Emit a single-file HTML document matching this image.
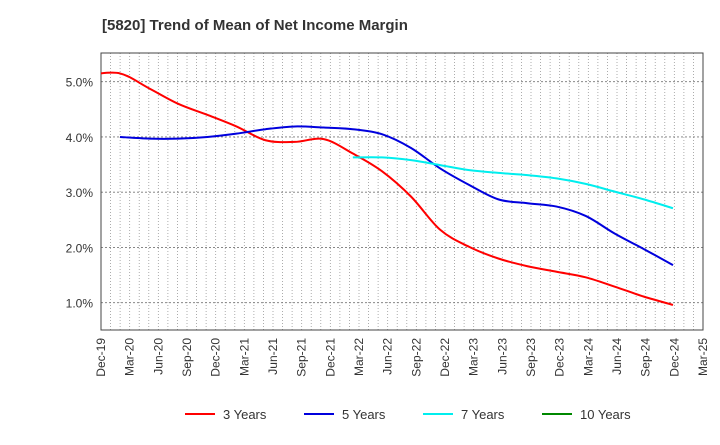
<!DOCTYPE html>
<html><head><meta charset="utf-8"><style>
body{margin:0;background:#fff;font-family:"Liberation Sans",sans-serif}
</style></head><body>
<svg width="720" height="440" xmlns="http://www.w3.org/2000/svg">
<defs><clipPath id="cp"><rect x="101" y="53" width="602" height="277"/></clipPath></defs>
<text x="102" y="30" font-size="15" font-weight="bold" fill="#333">[5820]  Trend of Mean of Net Income Margin</text>
<g id="grid"></g>
<rect x="101" y="53" width="602" height="277" fill="none" stroke="#444" stroke-width="1"/>
<g id="series" clip-path="url(#cp)"></g>
<g id="axes"></g>
<g id="legend"></g>
</svg>
<script>
const xLabels=["Dec-19","Mar-20","Jun-20","Sep-20","Dec-20","Mar-21","Jun-21","Sep-21","Dec-21","Mar-22","Jun-22","Sep-22","Dec-22","Mar-23","Jun-23","Sep-23","Dec-23","Mar-24","Jun-24","Sep-24","Dec-24","Mar-25"];
const yTicks=[1,2,3,4,5];
const red=[5.13,5.15,4.88,4.6,4.4,4.19,3.94,3.91,3.96,3.7,3.38,2.92,2.32,2.01,1.8,1.66,1.56,1.46,1.29,1.11,0.96];
const blue=[null,4.0,3.97,3.97,4.0,4.06,4.14,4.19,4.17,4.14,4.05,3.8,3.43,3.13,2.87,2.8,2.74,2.57,2.25,1.97,1.68];
const cyan=[null,null,null,null,null,null,null,null,null,3.63,3.63,3.58,3.49,3.4,3.35,3.31,3.25,3.15,3.01,2.87,2.71];
const green=[];
const NS="http://www.w3.org/2000/svg";
const X0=101,X1=703,Y0=53,Y1=330;
const yS=v=>302.7-(v-1)*55.25;
const tickX=i=>X0+i*(X1-X0)/21;
const ptX=i=>120+(i-1)*(553/19);
function mk(t,a,p){const e=document.createElementNS(NS,t);for(const k in a)e.setAttribute(k,a[k]);p.appendChild(e);return e;}
const grid=document.getElementById('grid'),axes=document.getElementById('axes'),ser=document.getElementById('series'),leg=document.getElementById('legend');
for(let m=1;m<63;m++){const x=X0+m*(X1-X0)/63;
const l=mk('line',{x1:x,x2:x,y1:Y0,y2:Y1,stroke:'#999','stroke-width':0.8,'stroke-dasharray':'1,2'},grid);

}
yTicks.forEach(v=>{const y=yS(v);
const l=mk('line',{x1:X0,x2:X1,y1:y,y2:y,stroke:'#777','stroke-width':0.8,'stroke-dasharray':'2,2'},grid);


const t=mk('text',{x:93,y:y+5,'text-anchor':'end','font-size':12,fill:'#333'},axes);t.textContent=v.toFixed(1)+'%';

});
xLabels.forEach((s,i)=>{const x=tickX(i);
const t=mk('text',{x:0,y:0,transform:`translate(${x+4},338) rotate(-90)`,'text-anchor':'end','font-size':12,fill:'#333'},axes);t.textContent=s;

});
function line(d,c,name){const pts=[];d.forEach((v,i)=>{if(v!=null)pts.push([ptX(i),yS(v)]);});
if(pts.length<2)return;
let p=`M${pts[0][0]},${pts[0][1]}`;
for(let i=0;i<pts.length-1;i++){const p0=pts[i-1]||pts[i],p1=pts[i],p2=pts[i+1],p3=pts[i+2]||p2;
p+=` C${p1[0]+(p2[0]-p0[0])/6},${p1[1]+(p2[1]-p0[1])/6} ${p2[0]-(p3[0]-p1[0])/6},${p2[1]-(p3[1]-p1[1])/6} ${p2[0]},${p2[1]}`;}
const e=mk('path',{d:p,fill:'none',stroke:c,'stroke-width':2},ser);

}
line(red,'#f00','series-3-years');line(blue,'#0000dd','series-5-years');line(cyan,'#00eeee','series-7-years');line(green,'#080','series-10-years');
[['3 Years','#f00',185],['5 Years','#0000dd',304],['7 Years','#00eeee',423],['10 Years','#080',542]].forEach(([n,c,x])=>{
const g=mk('g',{},leg);


mk('line',{x1:x,x2:x+30,y1:414,y2:414,stroke:c,'stroke-width':2},g);
const t=mk('text',{x:x+38,y:419,'font-size':13,fill:'#333'},g);t.textContent=n;});
</script>
</body></html>
